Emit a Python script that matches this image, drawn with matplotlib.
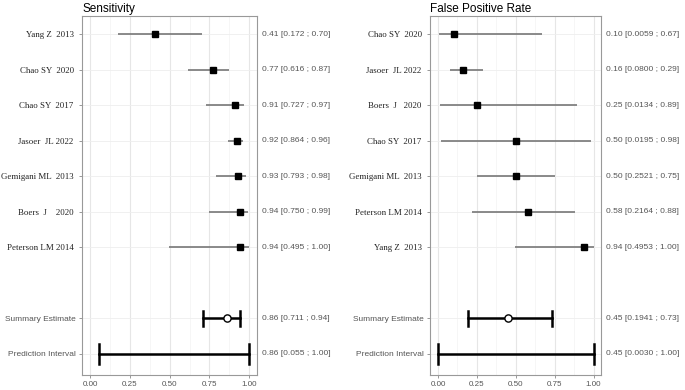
import matplotlib
matplotlib.use("Agg")
import matplotlib.pyplot as plt
import numpy as np

# Sensitivity panel
sens_studies = ["Yang Z  2013", "Chao SY  2020", "Chao SY  2017", "Jasoer  JL 2022",
                "Gemigani ML  2013", "Boers  J    2020", "Peterson LM 2014"]
sens_est = [0.41, 0.77, 0.91, 0.92, 0.93, 0.94, 0.94]
sens_lo = [0.172, 0.616, 0.727, 0.864, 0.793, 0.750, 0.495]
sens_hi = [0.70, 0.87, 0.97, 0.96, 0.98, 0.99, 1.00]
sens_text = ["0.41 [0.172 ; 0.70]", "0.77 [0.616 ; 0.87]", "0.91 [0.727 ; 0.97]",
             "0.92 [0.864 ; 0.96]", "0.93 [0.793 ; 0.98]", "0.94 [0.750 ; 0.99]",
             "0.94 [0.495 ; 1.00]"]
sens_sum = (0.86, 0.711, 0.94)
sens_pred = (0.86, 0.055, 1.00)
sens_sum_text = ["0.86 [0.711 ; 0.94]", "0.86 [0.055 ; 1.00]"]

# False positive rate panel
fpr_studies = ["Chao SY  2020", "Jasoer  JL 2022", "Boers  J   2020", "Chao SY  2017",
               "Gemigani ML  2013", "Peterson LM 2014", "Yang Z  2013"]
fpr_est = [0.10, 0.16, 0.25, 0.50, 0.50, 0.58, 0.94]
fpr_lo = [0.0059, 0.0800, 0.0134, 0.0195, 0.2521, 0.2164, 0.4953]
fpr_hi = [0.67, 0.29, 0.89, 0.98, 0.75, 0.88, 1.00]
fpr_text = ["0.10 [0.0059 ; 0.67]", "0.16 [0.0800 ; 0.29]", "0.25 [0.0134 ; 0.89]",
            "0.50 [0.0195 ; 0.98]", "0.50 [0.2521 ; 0.75]", "0.58 [0.2164 ; 0.88]",
            "0.94 [0.4953 ; 1.00]"]
fpr_sum = (0.45, 0.1941, 0.73)
fpr_pred = (0.45, 0.0030, 1.00)
fpr_sum_text = ["0.45 [0.1941 ; 0.73]", "0.45 [0.0030 ; 1.00]"]

summary_labels = ["Summary Estimate", "Prediction Interval"]
xticks = [0.00, 0.25, 0.50, 0.75, 1.00]
xticklabels = ["0.00", "0.25", "0.50", "0.75", "1.00"]

SANS = "Liberation Sans"
SERIF = "Liberation Serif"

fig = plt.figure(figsize=(6.85, 3.9), dpi=100)

def panel(rect, title, studies, est, lo, hi, texts, summ, pred, stexts):
    ax = fig.add_axes(rect)
    n = len(studies)
    ypos = np.arange(n)
    ys = [n + 1, n + 2]
    ax.set_xlim(-0.05, 1.05)
    ax.set_ylim(n + 2.6, -0.5)
    # grid
    for x in np.arange(0, 1.01, 0.125):
        major = abs((x / 0.25) - round(x / 0.25)) < 1e-6
        ax.axvline(x, color="#e6e6e6" if major else "#f3f3f3", lw=0.8 if major else 0.5, zorder=0)
    for y in list(ypos) + ys:
        ax.axhline(y, color="#eeeeee", lw=0.6, zorder=0)
    # studies
    for y, e, l, h in zip(ypos, est, lo, hi):
        ax.plot([l, h], [y, y], color="#777777", lw=1.2, zorder=2, solid_capstyle="butt")
        ax.plot([e], [y], marker="s", color="black", markersize=4.3, zorder=3, linestyle="none")
    # summary
    e, l, h = summ
    ax.plot([l, h], [ys[0], ys[0]], color="black", lw=1.8, zorder=2)
    ax.plot([l, l], [ys[0] - 0.22, ys[0] + 0.22], color="black", lw=1.8, zorder=2)
    ax.plot([h, h], [ys[0] - 0.22, ys[0] + 0.22], color="black", lw=1.8, zorder=2)
    ax.plot([e], [ys[0]], marker="o", mfc="white", mec="black", mew=1.0, markersize=5.2, zorder=3)
    e, l, h = pred
    ax.plot([l, h], [ys[1], ys[1]], color="black", lw=1.8, zorder=2)
    ax.plot([l, l], [ys[1] - 0.28, ys[1] + 0.28], color="black", lw=1.8, zorder=2)
    ax.plot([h, h], [ys[1] - 0.28, ys[1] + 0.28], color="black", lw=1.8, zorder=2)

    ax.set_yticks(list(ypos) + ys)
    ax.set_yticklabels([s + " " for s in studies] + summary_labels)
    for i, t in enumerate(ax.get_yticklabels()):
        if i < n:
            t.set_fontfamily(SERIF)
            t.set_fontsize(6.4)
            t.set_color("#222222")
        else:
            t.set_fontfamily(SANS)
            t.set_fontsize(6.0)
            t.set_color("#555555")
    ax.set_xticks(xticks)
    ax.set_xticklabels(xticklabels, fontsize=5.8, color="#555555", family=SANS)
    ax.tick_params(axis="both", length=2.5, width=0.6, color="#888888", pad=2)
    for s in ax.spines.values():
        s.set_color("#999999")
        s.set_linewidth(0.8)
    # right-hand text
    for y, t in zip(list(ypos) + ys, texts + stexts):
        ax.text(1.025, y, t, transform=ax.get_yaxis_transform(), ha="left", va="center",
                fontsize=6.0, color="#555555", family=SANS)
    ax.text(0.0, 1.004, title, transform=ax.transAxes, ha="left", va="bottom",
            fontsize=8.5, color="black", family=SANS)
    return ax

panel([0.12, 0.038, 0.2555, 0.92], "Sensitivity", sens_studies, sens_est, sens_lo, sens_hi,
      sens_text, sens_sum, sens_pred, sens_sum_text)
panel([0.628, 0.038, 0.25, 0.92], "False Positive Rate", fpr_studies, fpr_est, fpr_lo, fpr_hi,
      fpr_text, fpr_sum, fpr_pred, fpr_sum_text)

fig.savefig("out.png", dpi=100, facecolor="white")
